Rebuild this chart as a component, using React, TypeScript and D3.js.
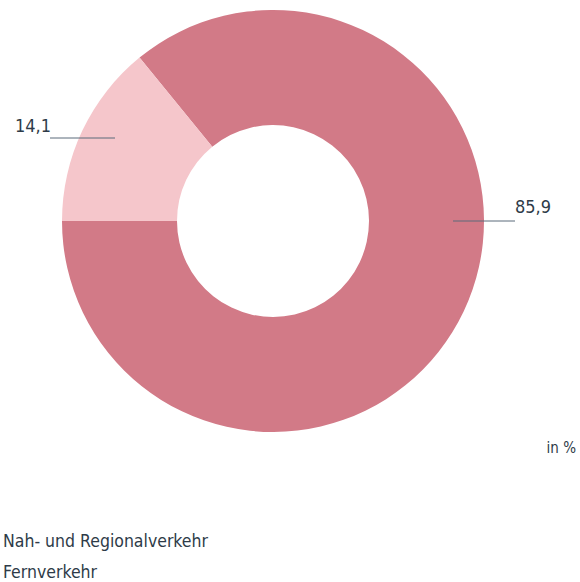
import React from "react";
import * as d3 from "d3";

const categories = ["Nah- und Regionalverkehr", "Fernverkehr"];
const values = [85.9, 14.1];
const valueLabels = ["85,9", "14,1"];
const colors = ["#d27a87", "#f5c6cb"];
const unitLabel = "in %";

const W = 580;
const H = 582;
const FONT = "'DejaVu Sans Condensed', 'Liberation Sans Narrow', 'Roboto', sans-serif";
const TEXT = "#2e3b48";

export default function App() {
  const cx = 273;
  const cy = 221;
  const outerR = 211;
  const innerR = 96;
  // Light slice starts at 9 o'clock and runs clockwise; dark fills the rest
  const light = values[1];
  const total = d3.sum(values);
  const start = -Math.PI / 2 + (light / total) * 2 * Math.PI;
  const pie = d3
    .pie<number>()
    .sort(null)
    .value((d) => d)
    .startAngle(start)
    .endAngle(start + 2 * Math.PI);
  const arcs = pie(values);
  const arc = d3.arc<d3.PieArcDatum<number>>().innerRadius(innerR).outerRadius(outerR);

  return (
    <svg
      width={W}
      height={H}
      style={{ position: "absolute", left: 0, top: 0, background: "#fff" }}
      fontFamily={FONT}
    >
      <g transform={`translate(${cx},${cy})`}>
        {arcs.map((a, i) => (
          <path key={i} d={arc(a) || ""} fill={colors[i]} />
        ))}
      </g>
      {/* 85,9 label */}
      <line x1={453} y1={221} x2={515} y2={221} stroke="#5a6a7a" strokeWidth={1} />
      <text x={515} y={213} fontSize={18} fill={TEXT}>
        {valueLabels[0]}
      </text>
      {/* 14,1 label */}
      <line x1={50} y1={138} x2={115} y2={138} stroke="#5a6a7a" strokeWidth={1} />
      <text x={15} y={132} fontSize={18} fill={TEXT}>
        {valueLabels[1]}
      </text>
      <text x={576} y={453} fontSize={15} fill={TEXT} textAnchor="end">
        {unitLabel}
      </text>
      {categories.map((c, i) => (
        <text key={c} x={3} y={547 + i * 31} fontSize={17.5} fill={TEXT}>
          {c}
        </text>
      ))}
    </svg>
  );
}
